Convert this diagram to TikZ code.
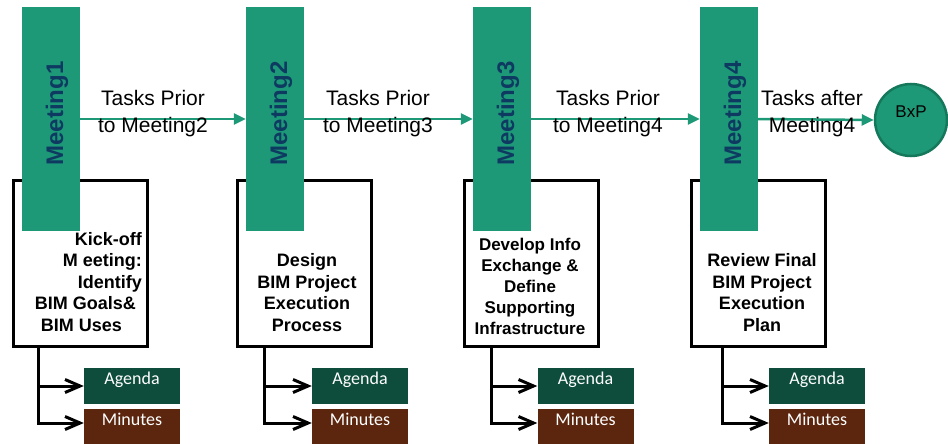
\documentclass[tikz,border=0pt]{standalone}
\usepackage{fontspec}
\setmainfont{Liberation Sans}
\newfontfamily\calibri{Carlito}
\usetikzlibrary{arrows.meta,calc}
\definecolor{mgreen}{RGB}{29,153,120}
\definecolor{mnavy}{RGB}{14,58,98}
\definecolor{agreen}{RGB}{14,77,60}
\definecolor{mbrown}{RGB}{92,38,14}
\definecolor{bborder}{RGB}{22,120,90}
\begin{document}
\begin{tikzpicture}[x=1pt,y=-1pt,
 meet/.style={fill=mgreen, minimum width=58pt, minimum height=224pt, inner sep=0},
 mlabel/.style={rotate=90, text=mnavy, font=\fontsize{24}{28}\selectfont\bfseries, inner sep=0},
 taskbox/.style={draw=black, line width=3pt, fill=white, minimum width=134pt, minimum height=166pt, inner sep=0},
 boxtext/.style={font=\fontsize{18}{21.5}\selectfont\bfseries, align=center, inner sep=0},
 tasklbl/.style={font=\fontsize{21}{27}\selectfont, align=center, inner sep=0},
 flow/.style={draw=mgreen, line width=2.5pt, -{Triangle[length=12pt,width=11pt]}},
 doc/.style={minimum width=96pt, minimum height=36pt, inner xsep=0, inner ysep=0, text height=16.5pt, text depth=19.5pt, text=white, font=\calibri\fontsize{18}{20}\selectfont},
 agenda/.style={doc, fill=agreen},
 minutes/.style={doc, fill=mbrown},
 branch/.style={draw=black, line width=3pt, -{Straight Barb[length=15pt,width=13pt]}},
]
\useasboundingbox (0,0) rectangle (948,444);

% task boxes
\node[taskbox] (b1) at (80.5,263.5) {};
\node[taskbox] (b2) at (304,263.5) {};
\node[taskbox] (b3) at (531.5,263.5) {};
\node[taskbox] (b4) at (758.5,263.5) {};

% meeting bars
\node[meet] (m1) at (51,119) {};
\node[meet] (m2) at (275,119) {};
\node[meet] (m3) at (502,119) {};
\node[meet] (m4) at (729,119) {};
\node[mlabel] (l1) at ($(m1)+(6,-5.5)$) {Meeting1};
\node[mlabel] (l2) at ($(m2)+(6,-5.5)$) {Meeting2};
\node[mlabel] (l3) at ($(m3)+(6,-5.5)$) {Meeting3};
\node[mlabel] (l4) at ($(m4)+(6,-5.5)$) {Meeting4};

% box texts
\node[boxtext, align=right, anchor=east] (t1) at (142,282)
  {Kick-off\\M eeting:\\Identify\\BIM Goals\&\rule{6pt}{0pt}\\BIM Uses\rule{20pt}{0pt}};
\node[boxtext] (t2) at (307,292.5) {Design\\BIM Project\\Execution\\Process};
\node[boxtext, font=\fontsize{17}{21}\selectfont\bfseries] (t3) at (530,286.5)
  {Develop Info\\Exchange \&\\Define\\Supporting\\Infrastructure};
\node[boxtext] (t4) at (762,292.5) {Review Final\\BIM Project\\Execution\\Plan};

% BxP
\node[circle, fill=mgreen, draw=bborder, line width=2.5pt, minimum size=72pt, inner sep=0,
  font=\fontsize{17}{19}\selectfont, text height=12.5pt, text depth=17pt] (bxp) at (911,120) {BxP};

% flow arrows
\draw[flow] (m1.east) -- (m2.west);
\draw[flow] (m2.east) -- (m3.west);
\draw[flow] (m3.east) -- (m4.west);
\draw[flow] (m4.east) -- (bxp.west);
\node[tasklbl] (k1) at (153,113.5) {Tasks Prior\\to Meeting2};
\node[tasklbl] (k2) at (378,113.5) {Tasks Prior\\to Meeting3};
\node[tasklbl] (k3) at (608,113.5) {Tasks Prior\\to Meeting4};
\node[tasklbl] (k4) at (812,113.5) {Tasks after\\Meeting4};

% documents
\node[agenda] (ag1) at (132,386) {Agenda};
\node[agenda] (ag2) at (360,386) {Agenda};
\node[agenda] (ag3) at (585.5,386) {Agenda};
\node[agenda] (ag4) at (817,386) {Agenda};
\node[minutes] (mn1) at (132,427) {Minutes};
\node[minutes] (mn2) at (360,427) {Minutes};
\node[minutes] (mn3) at (585.5,427) {Minutes};
\node[minutes] (mn4) at (817,427) {Minutes};

% branches
\foreach \i/\dx in {1/26,2/29,3/28,4/32} {
  \coordinate (j\i) at ($(b\i.south west)+(\dx,0)$);
  \draw[branch] (j\i) |- (ag\i.west);
  \draw[branch] (j\i) |- ($(mn\i.west)+(0,-4)$);
}
\end{tikzpicture}
\end{document}
